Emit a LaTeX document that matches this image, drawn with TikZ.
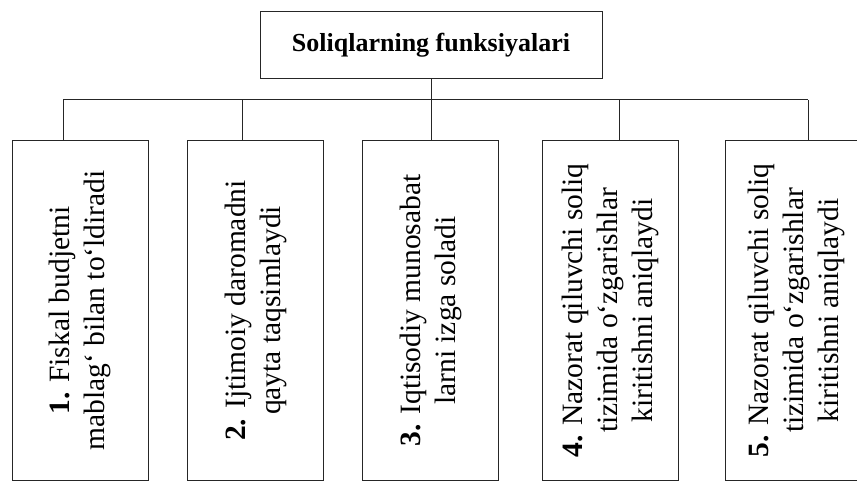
\documentclass[tikz,border=0pt]{standalone}
\usepackage{fontspec}
\setmainfont{Liberation Serif}
\usepackage{tikz}
\usetikzlibrary{positioning}
\tikzset{
  sarlavha/.style={draw=black!85, line width=1pt, minimum width=342pt, minimum height=67pt,
    font=\fontsize{26}{31}\selectfont\bfseries},
  funksiya/.style={draw=black!85, line width=1pt, rotate=90, minimum width=339pt,
    minimum height=136pt, align=center, inner sep=2pt,
    font=\fontsize{29.5}{35}\selectfont},
  chiziq/.style={draw=black!85, line width=1pt}
}

\begin{document}
\begin{tikzpicture}[x=1pt, y=1pt]
     \path[use as bounding box, clip] (0,0) rectangle (857,483);
     \node[sarlavha] (T) at (431, 437.5) {Soliqlarning funksiyalari};
     \node[funksiya] (F1) at (80, 172.5) {\textbf{1.} Fiskal budjetni\\ mablag‘ bilan to‘ldiradi};
     \node[funksiya] (F2) at (255.5, 172.5) {\textbf{2.} Ijtimoiy daromadni\\ qayta taqsimlaydi};
     \node[funksiya] (F3) at (430.5, 172.5) {\textbf{3.} Iqtisodiy munosabat\\ larni izga soladi};
     \node[funksiya] (F4) at (610.5, 172.5) {\textbf{4.} Nazorat qiluvchi soliq\\ tizimida o‘zgarishlar\\ kiritishni aniqlaydi};
     \node[funksiya, minimum height=142pt] (F5) at (796, 172.5) {\textbf{5.} Nazorat qiluvchi soliq\\ tizimida o‘zgarishlar\\ kiritishni aniqlaydi};
     \coordinate (C1) at (63, 383);
     \coordinate (C2) at (242, 383);
     \coordinate (C4) at (619, 383);
     \coordinate (C5) at (808, 383);
     \draw[chiziq] (C1) -- (C5);
     \draw[chiziq] (T.south) -- (T.south |- F3.east);
     \draw[chiziq] (C1) -- (C1 |- F1.east);
     \draw[chiziq] (C2) -- (C2 |- F2.east);
     \draw[chiziq] (C4) -- (C4 |- F4.east);
     \draw[chiziq] (C5) -- (C5 |- F5.east);
    \end{tikzpicture}
\end{document}
